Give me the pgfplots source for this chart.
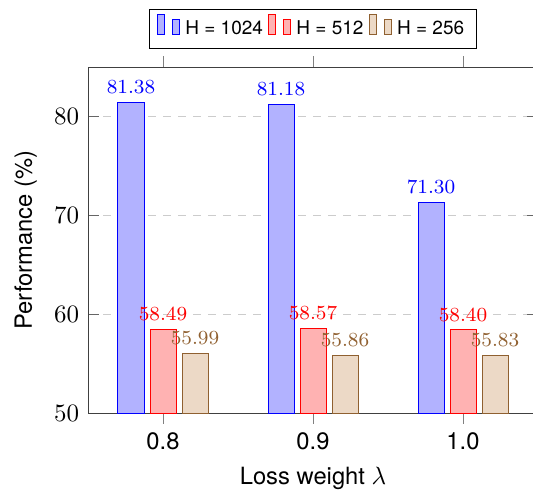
\documentclass[border=0pt]{standalone}
\usepackage{fontspec}
\setsansfont{TeX Gyre Heros}[Scale=0.95]
\usepackage{pgfplots}
\pgfplotsset{compat=1.18}
\colorlet{mybrown}{brown!75!black}
\begin{document}
\begin{tikzpicture}
\begin{axis}[
  at={(0,0)}, anchor=south west,
  scale only axis, width=180pt, height=138.4pt,
  xmin=0.75, xmax=1.05, ymin=50, ymax=85,
  ybar=2.4pt, bar width=10.4pt,
  xtick={0.8,0.9,1.0}, xticklabels={0.8,0.9,1.0},
  xticklabel style={font=\sffamily},
  ytick={50,60,70,80},
  xtick align=outside,
  ymajorgrids, grid style={dashed, gray!40},
  axis line style={black!75},
  xtick style={gray}, ytick style={black!60},
  nodes near coords={\pgfmathprintnumber[fixed,fixed zerofill,precision=2]{\pgfplotspointmeta}},
  every node near coord/.append style={font=\footnotesize},
  xlabel={Loss weight $\lambda$}, ylabel={Performance (\%)},
  label style={font=\sffamily},
  legend columns=3,
  legend style={at={(0.5,1)}, anchor=south, yshift=7.2pt, draw=black, font=\sffamily},
]
\addplot[draw=blue, fill=blue!30, every node near coord/.append style={text=blue}] coordinates {(0.8,81.38) (0.9,81.18) (1.0,71.30)};
\addlegendentry{\footnotesize H = 1024}
\addplot[draw=mybrown!0!red, fill=red!30, every node near coord/.append style={text=red}] coordinates {(0.8,58.49) (0.9,58.57) (1.0,58.40)};
\addlegendentry{\footnotesize H = 512}
\addplot[draw=mybrown, fill=brown!30, every node near coord/.append style={text=mybrown}] coordinates {(0.8,55.99) (0.9,55.86) (1.0,55.83)};
\addlegendentry{\footnotesize H = 256}
\end{axis}
\pgfresetboundingbox
\useasboundingbox (-35.2pt,-31.2pt) rectangle (178pt,165.2pt);
\end{tikzpicture}
\end{document}
